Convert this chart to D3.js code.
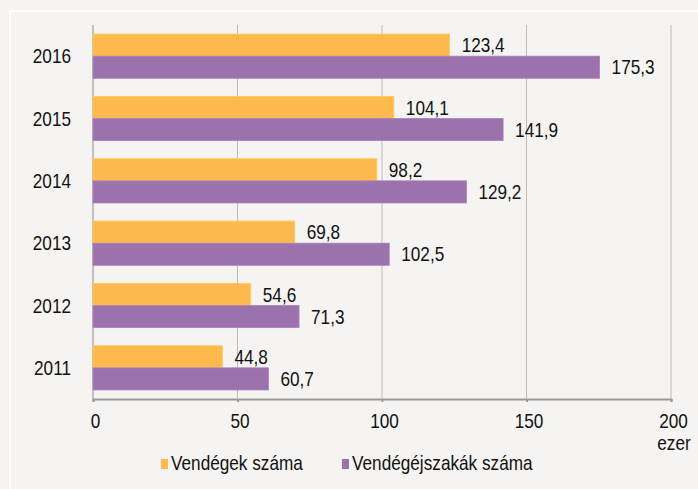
<!DOCTYPE html>
<html>
<head>
<meta charset="utf-8">
<script src="https://cdn.jsdelivr.net/npm/d3@7"></script>
<style>
  body { margin: 0; background: #f5f4f2; }
  text { font-family: "Liberation Sans", Arial, sans-serif; fill: #111; }
</style>
</head>
<body>
<div id="chart"></div>
<script>
var years = ["2016", "2015", "2014", "2013", "2012", "2011"];
var guests = [123.4, 104.1, 98.2, 69.8, 54.6, 44.8];
var nights = [175.3, 141.9, 129.2, 102.5, 71.3, 60.7];
var seriesNames = ["Vendégek száma", "Vendégéjszakák száma"];
var seriesColors = ["#fdb94e", "#9b72ac"];
var xTicks = [0, 50, 100, 150, 200];

var W = 698, H = 489;
var margin = {top: 25, left: 93, right: 27, bottom: 90};
var squeeze = 0.86; // reference uses a narrow face

// place a text at (px,py) squeezed horizontally
function narrowAt(px, py) {
    return "translate(" + px + "," + py + ") scale(" + squeeze + ",1)";
}

var svg = d3.select("#chart")
    .append("svg")
    .attr("width", W)
    .attr("height", H);

// outer frame
svg.append("rect")
    .attr("x", 0).attr("y", 0).attr("width", W).attr("height", H)
    .attr("fill", "#f5f4f2");
svg.append("rect")
    .attr("x", 10).attr("y", 11).attr("width", W).attr("height", H)
    .attr("fill", "none")
    .attr("stroke", "#ffffff")
    .attr("stroke-width", 2);

var x = d3.scaleLinear()
    .domain([0, 200])
    .range([margin.left, 671]);

var y = d3.scaleBand()
    .domain(years)
    .range([margin.top, 399])
    .paddingInner(0.29)
    .paddingOuter(0.145);

var sub = d3.scaleBand()
    .domain([0, 1])
    .range([0, y.bandwidth()]);

// gridlines
svg.append("g")
    .selectAll("line")
    .data(xTicks)
    .enter()
    .append("line")
    .attr("x1", function (d) { return x(d); })
    .attr("x2", function (d) { return x(d); })
    .attr("y1", margin.top)
    .attr("y2", 399)
    .attr("stroke", "#bcbcbc")
    .attr("stroke-width", 1);

// left axis line
svg.append("line")
    .attr("x1", x(0)).attr("x2", x(0))
    .attr("y1", margin.top).attr("y2", 399)
    .attr("stroke", "#a8a8a8")
    .attr("stroke-width", 1);

var rows = years.map(function (yr, i) {
    return {year: yr, vals: [guests[i], nights[i]]};
});

var groups = svg.append("g")
    .selectAll("g")
    .data(rows)
    .enter()
    .append("g")
    .attr("transform", function (d) { return "translate(0," + y(d.year) + ")"; });

groups.selectAll("rect")
    .data(function (d) { return d.vals.map(function (v, k) { return {k: k, v: v}; }); })
    .enter()
    .append("rect")
    .attr("x", x(0))
    .attr("y", function (d) { return sub(d.k); })
    .attr("width", function (d) { return x(d.v) - x(0); })
    .attr("height", sub.bandwidth())
    .attr("fill", function (d) { return seriesColors[d.k]; })
    .attr("stroke", function (d) { return d3.color(seriesColors[d.k]).brighter(0.3); })
    .attr("stroke-width", 0.8);

groups.selectAll("text.val")
    .data(function (d) { return d.vals.map(function (v, k) { return {k: k, v: v}; }); })
    .enter()
    .append("text")
    .attr("class", "val")
    .attr("transform", function (d) { return narrowAt(x(d.v) + 12, sub(d.k) + sub.bandwidth() / 2); })
    .attr("dy", "0.36em")
    .attr("font-size", "20px")
    .text(function (d) { return d3.format(".1f")(d.v).replace(".", ","); });

// year labels
svg.append("g")
    .selectAll("text")
    .data(years)
    .enter()
    .append("text")
    .attr("transform", function (d) { return narrowAt(71, y(d) + y.bandwidth() / 2); })
    .attr("dy", "0.36em")
    .attr("text-anchor", "end")
    .attr("font-size", "20px")
    .text(function (d) { return d; });

// bottom axis
var xAxis = svg.append("g")
    .attr("transform", "translate(0,399)")
    .call(d3.axisBottom(x).tickValues(xTicks).tickSize(3).tickPadding(12));
xAxis.select(".domain").attr("stroke", "#9a9a9a").attr("stroke-width", 2);
xAxis.selectAll(".tick line").attr("stroke", "#9a9a9a").attr("stroke-width", 2);
xAxis.selectAll(".tick text")
    .style("font-family", "\"Liberation Sans\", Arial, sans-serif")
    .attr("font-size", "20px")
    .attr("fill", "#111")
    .attr("transform", "translate(2,0) scale(" + squeeze + ",1)");

svg.append("text")
    .attr("transform", narrowAt(x(200) + 3, 450))
    .attr("text-anchor", "middle")
    .attr("font-size", "20px")
    .text("ezer");

// legend
var legendX = [161, 342];
var legend = svg.append("g")
    .selectAll("g")
    .data(seriesNames)
    .enter()
    .append("g")
    .attr("transform", function (d, i) { return "translate(" + legendX[i] + ",459)"; });
legend.append("rect")
    .attr("width", 7)
    .attr("height", 10)
    .attr("fill", function (d, i) { return seriesColors[i]; });
legend.append("text")
    .attr("transform", narrowAt(10, 11))
    .attr("font-size", "20px")
    .text(function (d) { return d; });
</script>
</body>
</html>
